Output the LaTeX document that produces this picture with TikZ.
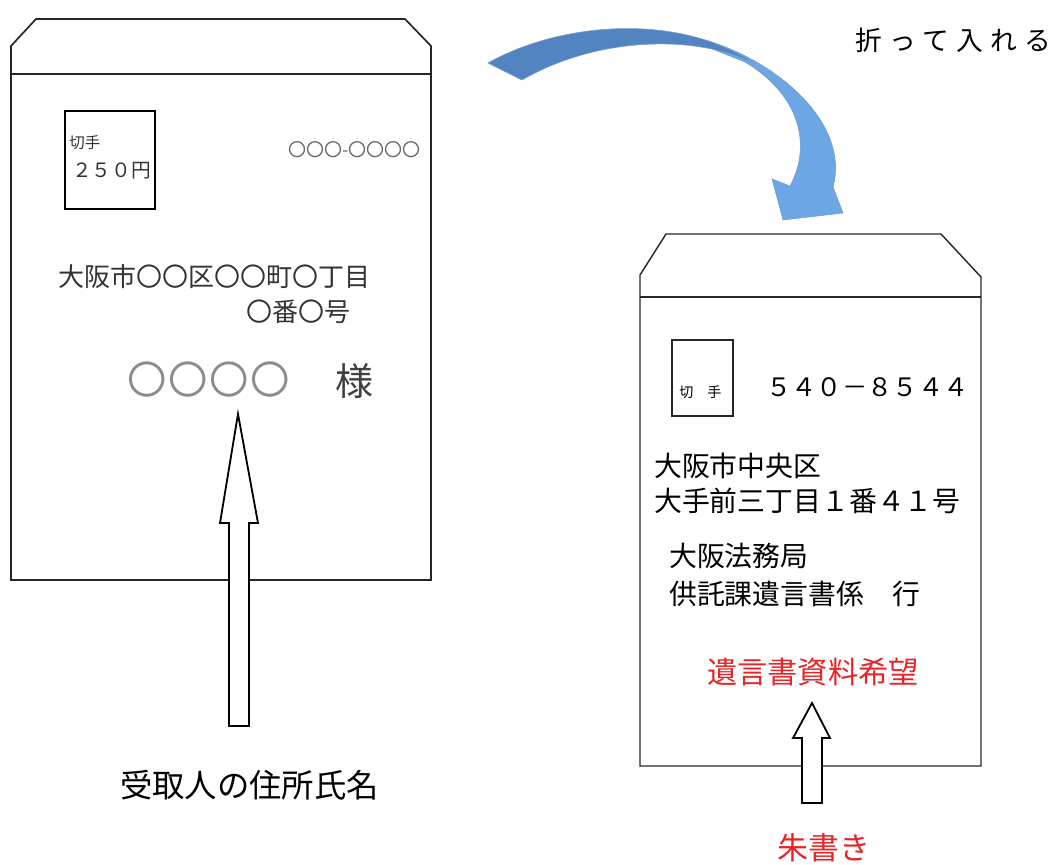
\documentclass[tikz,border=0pt]{standalone}
\usepackage{fontspec}
\setmainfont{Noto Sans CJK JP}
\usepackage{xcolor}
\definecolor{shu}{RGB}{232,36,40}
\definecolor{folddark}{RGB}{82,132,194}
\definecolor{foldlight}{RGB}{108,166,228}
\newcommand{\sz}[1]{\fontsize{#1}{#1}\selectfont}
\newcommand{\gap}[1]{\hspace{#1}}

\begin{document}
\begin{tikzpicture}[x=0.025cm,y=-0.025cm,
    envelope/.style={line width=1.2pt,draw=black!85},
    blockarrow/.style={line width=1.3pt,draw=black,fill=white},
    txt/.style={anchor=west,inner sep=0pt}]
    \useasboundingbox (0,0) rectangle (1049,864);

    % sending envelope (left)
    \draw [envelope] (11,580) -- (11,46) -- (36,19) -- (405,19) -- (431,46) -- (431,580) -- cycle;
    \draw [envelope] (11,74) -- (431,74);
    \draw [line width=1pt] (65,111) rectangle (155,209);
    \node (stampL)  [txt,text=black!80] at (69,143) {\sz{11pt}切手};
    \node (priceL)  [txt,text=black!80] at (72,171) {\sz{14pt}２５０円};
    \node (zipL)    [txt,text=black!60] at (288,150) {\sz{12.8pt}〇〇〇-〇〇〇〇};
    \node (addrL1)  [txt,text=black!80] at (58,277) {\sz{18.5pt}大阪市〇〇区〇〇町〇丁目};
    \node (addrL2)  [txt,text=black!80] at (246,312) {\sz{18.5pt}〇番〇号};
    \node (nameL)   [txt,text=black!45] at (127,380) {\sz{28pt}〇\gap{1.2pt}〇\gap{1.2pt}〇\gap{1.2pt}〇};
    \node (sama)    [txt,text=black!75] at (335,381) {\sz{27pt}様};

    % return envelope (right)
    \draw [envelope,line width=1pt] (640,766) -- (640,275) -- (666,234) -- (941,234) -- (981,277) -- (981,766) -- cycle;
    \draw [envelope,line width=1pt] (640,297) -- (981,297);
    \draw [line width=0.8pt,draw=black!85] (672,340) rectangle (733,416);
    \node (stampR)  [txt] at (679,392) {\sz{10pt}切　手};
    \node (zipR)    [txt] at (766,387) {\sz{18pt}５４０－８５４４};
    \node (addrR1)  [txt] at (654,466) {\sz{19.8pt}大阪市中央区};
    \node (addrR2)  [txt] at (654,501) {\sz{19.8pt}大手前三丁目１番４１号};
    \node (office)  [txt] at (669,556) {\sz{19.8pt}大阪法務局};
    \node (section) [txt] at (669,594) {\sz{19.8pt}供託課遺言書係　行};
    \node (request) [txt,text=shu] at (707,672) {\sz{21.5pt}遺言書資料希望};

    % outline arrows
    \draw [blockarrow] (229,726) -- (229,523) -- (220,523) -- (238,414) -- (258,523) -- (249,523) -- (249,726) -- cycle;
    \draw [blockarrow] (802,803) -- (802,738) -- (793,738) -- (812,703) -- (830,738) -- (822,738) -- (822,803) -- cycle;
    \node (addressee) [txt] at (120,785) {\sz{23pt}受取人の住所氏名};
    \node (redink)    [txt,text=shu] at (777,848) {\sz{22pt}朱書き};

    % folding arrow
    \fill [foldlight,draw=folddark!80,line width=0.4pt] (705,40) .. controls (780,62) and (850,125) .. (833,187)
        -- (843,213) -- (783,220) -- (772,179) -- (790,186)
        .. controls (812,145) and (800,95) .. (745,62) -- (705,46) -- cycle;
    \fill [folddark,draw=folddark!80,line width=0.4pt] (488,63) .. controls (560,22) and (680,12) .. (755,64)
        .. controls (700,35) and (600,35) .. (522,80) -- cycle;
    \node (fold) [txt] at (855,40) {\sz{19pt}折\gap{5pt}っ\gap{5pt}て\gap{5pt}入\gap{5pt}れ\gap{5pt}る};
\end{tikzpicture}
\end{document}
